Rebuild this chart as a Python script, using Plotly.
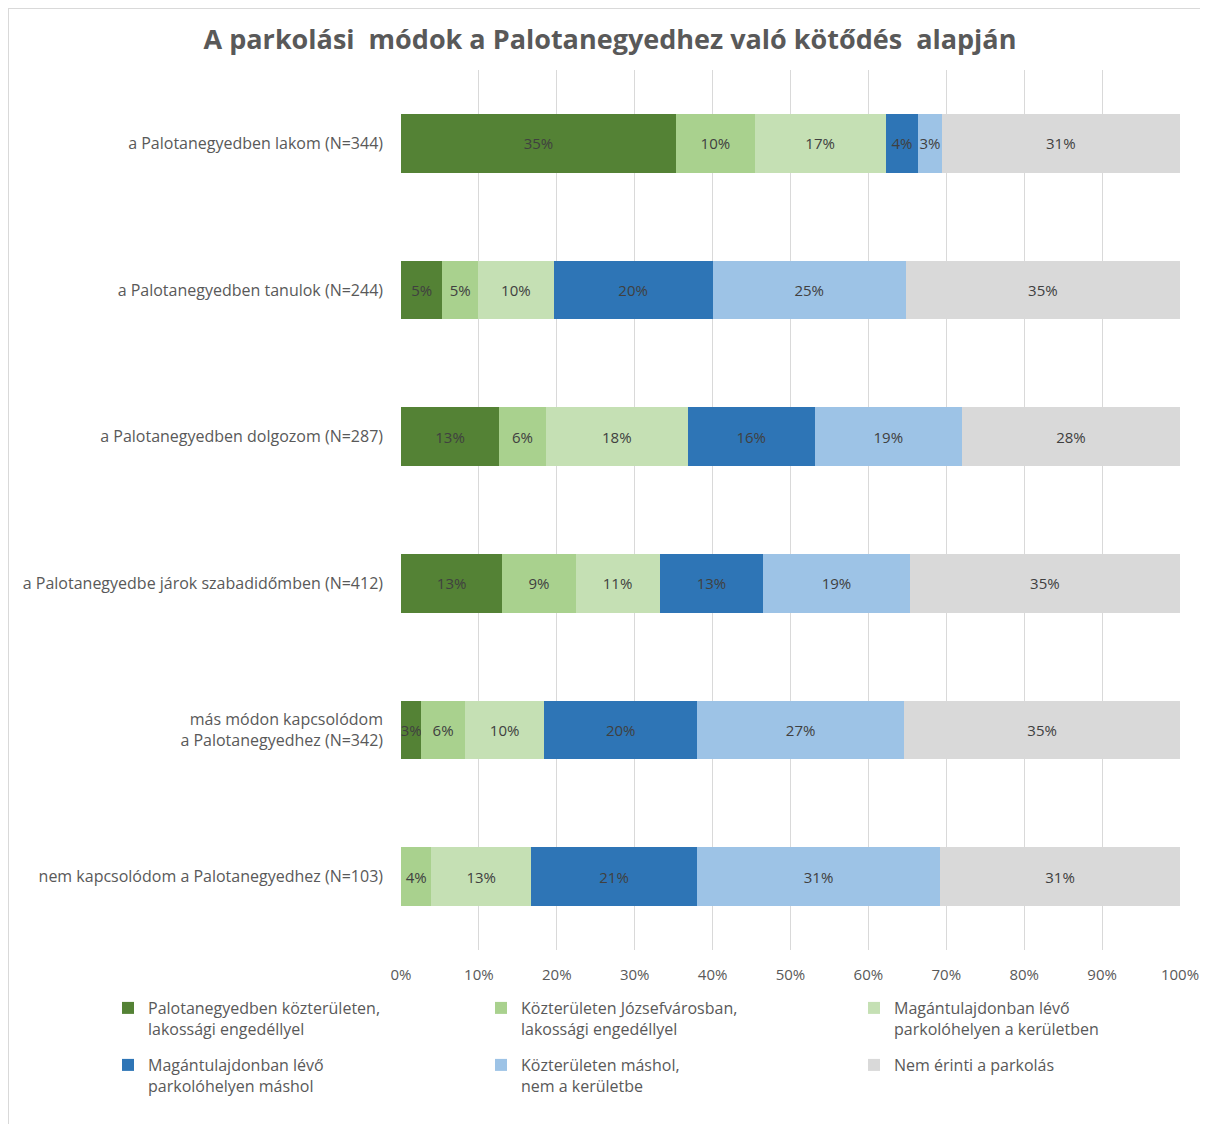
import plotly.graph_objects as go

# categories (top to bottom as in the picture)
groups = [
    "a Palotanegyedben lakom (N=344)",
    "a Palotanegyedben tanulok (N=244)",
    "a Palotanegyedben dolgozom (N=287)",
    "a Palotanegyedbe járok szabadidőmben (N=412)",
    "más módon kapcsolódom<br>a Palotanegyedhez (N=342)",
    "nem kapcsolódom a Palotanegyedhez (N=103)",
]

series_names = [
    "Palotanegyedben közterületen,<br>lakossági engedéllyel",
    "Közterületen Józsefvárosban,<br>lakossági engedéllyel",
    "Magántulajdonban lévő<br>parkolóhelyen a kerületben",
    "Magántulajdonban lévő<br>parkolóhelyen máshol",
    "Közterületen máshol,<br>nem a kerületbe",
    "Nem érinti a parkolás",
]

# percentages per series, same order as groups
palota_kozterulet = [35.3, 5.3, 12.6, 13.0, 2.6, None]
jozsefvaros = [10.1, 4.6, 6.0, 9.4, 5.6, 3.9]
magan_kerulet = [16.8, 9.7, 18.2, 10.8, 10.2, 12.8]
magan_mashol = [4.2, 20.4, 16.3, 13.3, 19.6, 21.3]
kozterulet_mashol = [3.0, 24.8, 18.9, 18.8, 26.6, 31.2]
nem_erinti = [30.6, 35.2, 28.0, 34.7, 35.4, 30.8]

series_values = [palota_kozterulet, jozsefvaros, magan_kerulet,
                 magan_mashol, kozterulet_mashol, nem_erinti]
colors = ["#548235", "#A9D18E", "#C5E0B4", "#2E75B6", "#9DC3E6", "#D9D9D9"]

tick_vals = list(range(0, 101, 10))
tick_text = [f"{v}%" for v in tick_vals]

font_name = "Open Sans"
text_col = "#595959"

# page body has an 8px margin, so the figure is a bit smaller than the window
W, H = 1200, 1116
ML, MR, MT, MB = 393, 28, 62, 174
PW, PH = W - ML - MR, H - MT - MB


def px_x(page_x):
    return (page_x - 8 - ML) / PW


def px_y(page_y):
    return (H - MB - (page_y - 8)) / PH


# one legend box per entry, laid out as a 3 x 2 grid under the chart
legend_cols = [108, 481, 854]
legend_rows = [991, 1048]

fig = go.Figure()
legends = {}
for i, (name, vals, col) in enumerate(zip(series_names, series_values, colors)):
    key = "legend" if i == 0 else f"legend{i + 1}"
    fig.add_trace(go.Bar(
        y=groups, x=vals, name=name, orientation="h",
        marker=dict(color=col, line=dict(width=0)),
        texttemplate="%{x:.0f}%", textposition="inside",
        insidetextanchor="middle", textangle=0, constraintext="none",
        insidetextfont=dict(family=font_name, size=15, color="#404040"),
        legend=key, showlegend=True,
    ))
    legends[key] = dict(
        x=px_x(legend_cols[i % 3]), y=px_y(legend_rows[i // 3]),
        xanchor="left", yanchor="top", itemwidth=30, valign="top",
        font=dict(family=font_name, size=16, color=text_col),
        bgcolor="rgba(0,0,0,0)",
    )

fig.update_layout(
    width=W, height=H, showlegend=True,
    barmode="stack", bargap=0.6,
    paper_bgcolor="white", plot_bgcolor="white",
    margin=dict(l=ML, r=MR, t=MT, b=MB),
    font=dict(family=font_name, color=text_col),
    title=dict(
        text="<b>A parkolási  módok a Palotanegyedhez való kötődés  alapján</b>",
        x=(610 - 8) / W, xanchor="center", y=1 - 32 / H, yanchor="middle",
        font=dict(family=font_name, size=27, color=text_col),
    ),
    shapes=[
        dict(type="line", xref="paper", yref="paper",
             x0=px_x(8.5), x1=px_x(8.5), y0=px_y(8), y1=px_y(1124),
             line=dict(color="#D9D9D9", width=1)),
        dict(type="line", xref="paper", yref="paper",
             x0=px_x(8), x1=px_x(1208), y0=px_y(8.5), y1=px_y(8.5),
             line=dict(color="#D9D9D9", width=1)),
    ],
    **legends,
)

fig.update_xaxes(
    range=[0, 100], tickvals=tick_vals, ticktext=tick_text,
    showgrid=True, gridcolor="#D9D9D9", gridwidth=1,
    zeroline=False, showline=False, automargin=False,
    tickfont=dict(family=font_name, size=15, color=text_col),
    ticks="", ticklabelstandoff=14,
)
fig.update_yaxes(
    autorange="reversed", showgrid=False, zeroline=False, showline=False,
    tickfont=dict(family=font_name, size=16, color=text_col),
    ticks="", ticklabelstandoff=17,
)

fig.write_html("out.html")
